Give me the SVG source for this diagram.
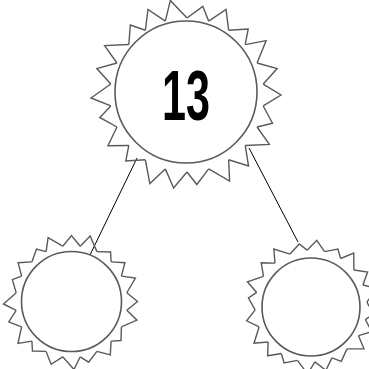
<svg xmlns="http://www.w3.org/2000/svg" xmlns:xlink="http://www.w3.org/1999/xlink" width="369" height="369" viewBox="0 0 369 369">
<style>
.sp{fill:none;stroke:#5a5a5a;stroke-width:1.4;stroke-linejoin:miter}
.ring{fill:#fff;stroke:#5a5a5a;stroke-width:1.6}
.edge{stroke:#000;stroke-width:1;fill:none}
.num{font-family:"Liberation Sans",Arial,sans-serif;font-weight:bold;font-size:70px;fill:#000}
</style>
<defs>
<polyline id="tA" class="sp" points="76.22,-10.96 94,0 76.22,10.96"/>
<polyline id="tB" class="sp" points="76.22,-10.96 90,3 76.22,10.96"/>
<polyline id="tC" class="sp" points="76.22,-10.96 96,-3 76.22,10.96"/>
<polyline id="sA" class="sp" points="55.31,-8.76 66,0 55.31,8.76"/>
<polyline id="sB" class="sp" points="55.31,-8.76 63,2.5 55.31,8.76"/>
<polyline id="sC" class="sp" points="55.31,-8.76 68,-2.5 55.31,8.76"/>
</defs>
<g id="connectors">
<line class="edge" x1="137" y1="158" x2="90" y2="255"/>
<line class="edge" x1="249" y1="148" x2="298" y2="242"/>
</g>
<g id="node-top" transform="translate(187,95)">
<use xlink:href="#tA" transform="rotate(0)"/>
<use xlink:href="#tB" transform="rotate(16.364)"/>
<use xlink:href="#tC" transform="rotate(32.727)"/>
<use xlink:href="#tA" transform="rotate(49.091)"/>
<use xlink:href="#tC" transform="rotate(65.455)"/>
<use xlink:href="#tB" transform="rotate(81.818)"/>
<use xlink:href="#tA" transform="rotate(98.182)"/>
<use xlink:href="#tC" transform="rotate(114.545)"/>
<use xlink:href="#tB" transform="rotate(130.909)"/>
<use xlink:href="#tA" transform="rotate(147.273)"/>
<use xlink:href="#tB" transform="rotate(163.636)"/>
<use xlink:href="#tC" transform="rotate(180)"/>
<use xlink:href="#tA" transform="rotate(196.364)"/>
<use xlink:href="#tC" transform="rotate(212.727)"/>
<use xlink:href="#tB" transform="rotate(229.091)"/>
<use xlink:href="#tA" transform="rotate(245.455)"/>
<use xlink:href="#tC" transform="rotate(261.818)"/>
<use xlink:href="#tB" transform="rotate(278.182)"/>
<use xlink:href="#tA" transform="rotate(294.545)"/>
<use xlink:href="#tB" transform="rotate(310.909)"/>
<use xlink:href="#tC" transform="rotate(327.273)"/>
<use xlink:href="#tA" transform="rotate(343.636)"/>
<circle class="ring" cx="-1" cy="-3" r="71"/>
<text class="num" x="-1" y="25" text-anchor="middle" textLength="48" lengthAdjust="spacingAndGlyphs">13</text>
</g>
<g id="node-left" transform="translate(71.5,301.5)">
<use xlink:href="#sA" transform="rotate(0)"/>
<use xlink:href="#sC" transform="rotate(18)"/>
<use xlink:href="#sB" transform="rotate(36)"/>
<use xlink:href="#sA" transform="rotate(54)"/>
<use xlink:href="#sB" transform="rotate(72)"/>
<use xlink:href="#sC" transform="rotate(90)"/>
<use xlink:href="#sA" transform="rotate(108)"/>
<use xlink:href="#sB" transform="rotate(126)"/>
<use xlink:href="#sC" transform="rotate(144)"/>
<use xlink:href="#sA" transform="rotate(162)"/>
<use xlink:href="#sC" transform="rotate(180)"/>
<use xlink:href="#sB" transform="rotate(198)"/>
<use xlink:href="#sA" transform="rotate(216)"/>
<use xlink:href="#sB" transform="rotate(234)"/>
<use xlink:href="#sC" transform="rotate(252)"/>
<use xlink:href="#sA" transform="rotate(270)"/>
<use xlink:href="#sC" transform="rotate(288)"/>
<use xlink:href="#sB" transform="rotate(306)"/>
<use xlink:href="#sA" transform="rotate(324)"/>
<use xlink:href="#sC" transform="rotate(342)"/>
<circle class="ring" cx="0" cy="0" r="50"/>
</g>
<g id="node-right" transform="translate(311,306)">
<use xlink:href="#sB" transform="rotate(5)"/>
<use xlink:href="#sA" transform="rotate(23)"/>
<use xlink:href="#sC" transform="rotate(41)"/>
<use xlink:href="#sB" transform="rotate(59)"/>
<use xlink:href="#sA" transform="rotate(77)"/>
<use xlink:href="#sC" transform="rotate(95)"/>
<use xlink:href="#sB" transform="rotate(113)"/>
<use xlink:href="#sA" transform="rotate(131)"/>
<use xlink:href="#sC" transform="rotate(149)"/>
<use xlink:href="#sA" transform="rotate(167)"/>
<use xlink:href="#sB" transform="rotate(185)"/>
<use xlink:href="#sC" transform="rotate(203)"/>
<use xlink:href="#sA" transform="rotate(221)"/>
<use xlink:href="#sC" transform="rotate(239)"/>
<use xlink:href="#sB" transform="rotate(257)"/>
<use xlink:href="#sA" transform="rotate(275)"/>
<use xlink:href="#sB" transform="rotate(293)"/>
<use xlink:href="#sC" transform="rotate(311)"/>
<use xlink:href="#sA" transform="rotate(329)"/>
<use xlink:href="#sC" transform="rotate(347)"/>
<circle class="ring" cx="0" cy="1" r="49"/>
</g>
</svg>
